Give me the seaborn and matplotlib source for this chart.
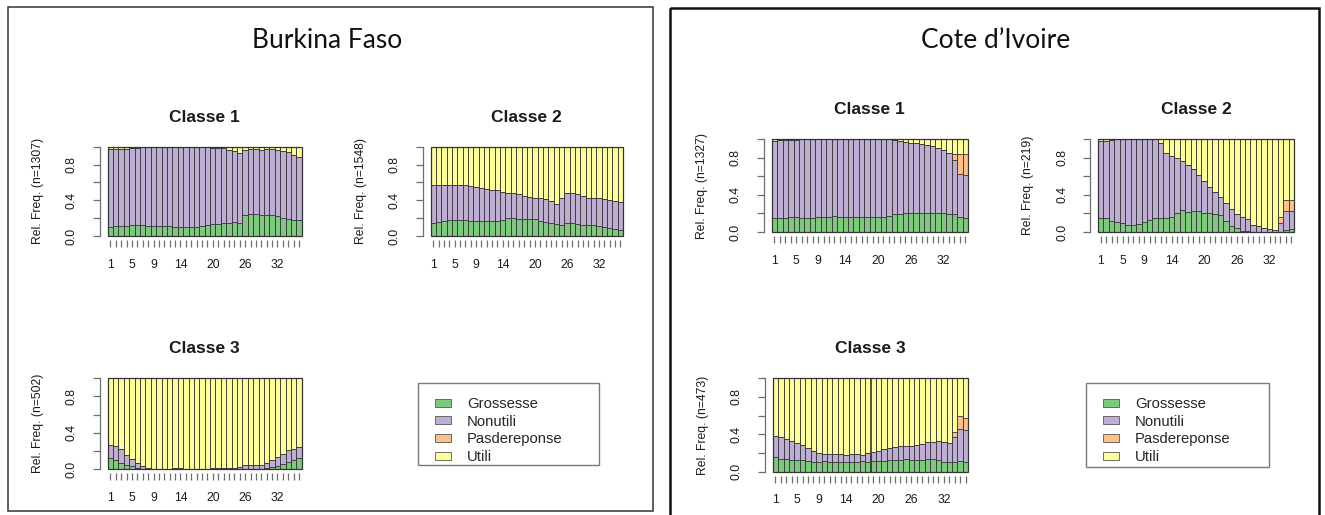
#!/usr/bin/env python

import numpy as np
import seaborn as sns
import matplotlib.pyplot as plt
from matplotlib.patches import Rectangle, Patch

# --- data -----------------------------------------------------------------
WEEKS = list(range(1, 37))
SHOWN_TICKS = ["1", "5", "9", "14", "20", "26", "32"]
CATEGORIES = ["Grossesse", "Nonutili", "Pasdereponse", "Utili"]
COLORS = ["#7fc97f", "#beaed4", "#fdc086", "#ffff99"]
COUNTRIES = ["Burkina Faso", "Cote d\u2019Ivoire"]
CLASSES = ["Classe 1", "Classe 2", "Classe 3"]
BF_N = [1307, 1548, 502]
CI_N = [1327, 219, 473]

BF_C1_G = [.10, .11, .11, .11, .12, .12, .12, .11, .11, .11, .11, .11, .10, .10, .10, .10, .10, .11,
           .12, .13, .13, .14, .15, .16, .15, .24, .25, .25, .24, .23, .23, .22, .20, .19, .18, .18]
BF_C1_N = [.87, .86, .86, .86, .86, .87, .88, .89, .89, .89, .89, .89, .90, .90, .90, .90, .90, .89,
           .88, .86, .86, .84, .81, .79, .78, .72, .72, .72, .72, .74, .74, .74, .75, .75, .73, .71]
BF_C1_P = [0, 0, 0, 0, 0, 0, 0, 0, 0, 0, 0, 0, 0, 0, 0, 0, 0, 0,
           0, 0, 0, 0, 0, 0, 0, 0, 0, 0, 0, 0, 0, 0, 0, 0, 0, 0]
BF_C1_U = [.03, .03, .03, .03, .02, .01, 0, 0, 0, 0, 0, 0, 0, 0, 0, 0, 0, 0,
           0, .01, .01, .02, .04, .05, .07, .04, .03, .03, .04, .03, .03, .04, .05, .06, .09, .11]

BF_C2_G = [.15, .16, .17, .18, .18, .18, .18, .17, .17, .17, .17, .17, .17, .18, .20, .20, .19, .19,
           .19, .19, .17, .16, .15, .13, .12, .14, .14, .13, .12, .12, .12, .11, .10, .09, .08, .07]
BF_C2_N = [.42, .41, .40, .39, .39, .39, .39, .39, .38, .37, .36, .35, .34, .31, .28, .28, .28, .26,
           .25, .24, .26, .25, .24, .23, .30, .34, .34, .34, .33, .31, .31, .31, .31, .31, .31, .31]
BF_C2_P = [0, 0, 0, 0, 0, 0, 0, 0, 0, 0, 0, 0, 0, 0, 0, 0, 0, 0,
           0, 0, 0, 0, 0, 0, 0, 0, 0, 0, 0, 0, 0, 0, 0, 0, 0, 0]
BF_C2_U = [.43, .43, .43, .43, .43, .43, .43, .44, .45, .46, .47, .48, .49, .51, .52, .52, .53, .55,
           .56, .57, .57, .59, .61, .64, .58, .52, .52, .53, .55, .57, .57, .58, .59, .60, .61, .62]

BF_C3_G = [.12, .10, .07, .045, .03, .015, .005, .005, 0, 0, 0, 0, .005, .005, 0, 0, 0, 0,
           0, .005, .01, .01, .005, 0, 0, .005, .005, .005, .005, .01, .02, .03, .055, .08, .10, .12]
BF_C3_N = [.145, .15, .15, .11, .075, .055, .025, .01, .005, .005, .005, .005, .005, .005, .005, .005, .005, .005,
           .005, .005, .005, .005, .005, .01, .025, .035, .035, .035, .04, .06, .08, .105, .115, .13, .12, .12]
BF_C3_P = [0, 0, 0, 0, 0, 0, 0, 0, 0, 0, 0, 0, 0, 0, 0, 0, 0, 0,
           0, 0, 0, 0, 0, 0, 0, 0, 0, 0, 0, 0, 0, 0, 0, 0, 0, 0]
BF_C3_U = [.735, .75, .78, .845, .895, .93, .97, .985, .995, .995, .995, .995, .99, .99, .995, .995, .995, .995,
           .995, .99, .985, .985, .99, .99, .975, .96, .96, .96, .955, .93, .90, .865, .83, .79, .78, .76]

CI_C1_G = [.15, .15, .15, .16, .16, .15, .15, .15, .16, .16, .16, .17, .16, .16, .16, .16, .16, .16,
           .16, .16, .16, .17, .19, .19, .20, .20, .21, .21, .21, .20, .20, .20, .19, .19, .16, .15]
CI_C1_N = [.83, .84, .84, .83, .83, .85, .85, .85, .84, .84, .84, .83, .84, .84, .84, .84, .84, .84,
           .84, .84, .84, .83, .80, .79, .77, .765, .75, .74, .73, .73, .71, .68, .66, .59, .47, .47]
CI_C1_P = [0, 0, 0, 0, 0, 0, 0, 0, 0, 0, 0, 0, 0, 0, 0, 0, 0, 0,
           0, 0, 0, 0, 0, 0, 0, 0, 0, 0, 0, 0, 0, 0, 0, .06, .21, .22]
CI_C1_U = [.02, .01, .01, .01, .01, 0, 0, 0, 0, 0, 0, 0, 0, 0, 0, 0, 0, 0,
           0, 0, 0, 0, .01, .02, .03, .035, .04, .05, .06, .07, .09, .12, .15, .16, .16, .16]

CI_C2_G = [.155, .15, .12, .11, .10, .08, .075, .085, .11, .13, .15, .15, .15, .16, .20, .24, .22, .23,
           .23, .21, .21, .19, .18, .12, .07, .04, .015, .01, .005, 0, 0, 0, 0, 0, .02, .03]
CI_C2_N = [.83, .835, .87, .89, .90, .92, .925, .915, .89, .87, .85, .81, .70, .66, .60, .53, .50, .45,
           .385, .34, .28, .245, .20, .19, .175, .155, .145, .13, .075, .06, .04, .03, .02, .10, .21, .20]
CI_C2_P = [0, 0, 0, 0, 0, 0, 0, 0, 0, 0, 0, 0, 0, 0, 0, 0, 0, 0,
           0, 0, 0, 0, 0, 0, 0, 0, 0, 0, 0, 0, 0, 0, 0, .065, .115, .115]
CI_C2_U = [.015, .015, .01, 0, 0, 0, 0, 0, 0, 0, 0, .04, .15, .18, .20, .23, .28, .32,
           .385, .45, .51, .565, .62, .69, .755, .805, .84, .86, .92, .94, .96, .97, .98, .835, .655, .655]

CI_C3_G = [.16, .14, .14, .125, .125, .125, .115, .10, .10, .11, .10, .10, .10, .10, .10, .10, .115, .10,
           .11, .11, .11, .12, .125, .125, .14, .13, .13, .13, .14, .135, .125, .10, .10, .10, .11, .10]
CI_C3_N = [.22, .23, .21, .205, .185, .16, .135, .125, .095, .08, .09, .09, .09, .08, .085, .085, .06, .095,
           .105, .115, .135, .13, .135, .145, .135, .15, .155, .17, .175, .185, .20, .215, .21, .27, .345, .345]
CI_C3_P = [0, 0, 0, 0, 0, 0, 0, 0, 0, 0, 0, 0, 0, 0, 0, 0, 0, 0,
           0, 0, 0, 0, 0, 0, 0, 0, 0, 0, 0, 0, 0, 0, 0, .05, .145, .135]
CI_C3_U = [.62, .63, .65, .67, .69, .715, .75, .775, .805, .81, .81, .81, .81, .82, .815, .815, .825, .805,
           .785, .775, .755, .75, .74, .73, .725, .72, .715, .70, .685, .68, .675, .685, .69, .58, .40, .42]

W, H = 1325, 515
EDGE = "#333333"
AXIS_GRAY = "#6e6e6e"
TEXT = "#1a1a1a"


def px_axes(fig, x0, y0, x1, y1):
    """add an axes from pixel coords (top-left origin)"""
    return fig.add_axes([x0 / W, 1 - y1 / H, (x1 - x0) / W, (y1 - y0) / H])


def draw_class(ax, series, title, n, width_px):
    """draw_class
    stacked relative frequency bars, drawn as overlapping cumulative layers
    """
    cum = np.cumsum(np.array(series, dtype=float), axis=0)
    for k in range(3, -1, -1):
        sns.barplot(x=WEEKS, y=cum[k], color=COLORS[k], saturation=1, width=1,
                    edgecolor=EDGE, linewidth=0.6, errorbar=None, ax=ax)
    ax.set_xlim(-0.5, 35.5)
    ax.set_ylim(0, 1)
    ax.set_xlabel("")
    ax.set_ylabel("")
    ax.set_xticks(range(len(WEEKS)))
    ax.set_xticklabels([str(w) if str(w) in SHOWN_TICKS else "" for w in WEEKS])
    ax.set_yticks([0, .2, .4, .6, .8, 1])
    ax.set_yticklabels(["0.0", "", "0.4", "", "0.8", ""])
    for s in ["top", "right", "bottom"]:
        ax.spines[s].set_visible(False)
    ax.spines["bottom"].set_position(("outward", 3))
    ax.spines["left"].set_position(("outward", 5.8))
    ax.spines["left"].set_bounds(0, 1)
    ax.spines["left"].set_color(AXIS_GRAY)
    ax.spines["left"].set_linewidth(0.9)
    ax.tick_params(axis="both", length=4.8, width=0.9, color=AXIS_GRAY,
                   labelsize=8.7, labelcolor=TEXT, bottom=True, left=True)
    ax.tick_params(axis="x", pad=8.5)
    ax.tick_params(axis="y", pad=11, labelrotation=90)
    for lab in ax.get_yticklabels():
        lab.set_verticalalignment("center")
    ax.add_patch(Rectangle((0, 0), 1, 1, transform=ax.transAxes, fill=False,
                           ec=EDGE, lw=0.9, clip_on=False, zorder=5))
    ax.set_title(title, fontsize=12.5, fontweight="bold", pad=18, color=TEXT)
    ax.text(-70 / width_px, 0.5, f"Rel. Freq. (n={n})", rotation=90, ha="center",
            va="center", transform=ax.transAxes, fontsize=8.7, color=TEXT)


def main():
    sns.set_style("white")
    plt.rcParams["font.family"] = ["Liberation Sans", "DejaVu Sans"]

    fig = plt.figure(figsize=(W / 100, H / 100), dpi=100)

    bg = fig.add_axes([0, 0, 1, 1], zorder=-1)
    bg.set_xlim(0, W)
    bg.set_ylim(H, 0)
    bg.axis("off")
    bg.add_patch(Rectangle((8, 7.3), 645, 503.4, fill=False, ec="#333333", lw=1.1))
    bg.add_patch(Rectangle((670, 7.5), 649, 530, fill=False, ec="#111111", lw=1.8))
    bg.text(327.5, 40, COUNTRIES[0], ha="center", va="center", fontsize=19,
            family=["Lato", "DejaVu Sans"], color="#111111")
    bg.text(996, 40, COUNTRIES[1], ha="center", va="center", fontsize=19,
            family=["Lato", "DejaVu Sans"], color="#111111")

    bf_series = [
        [BF_C1_G, BF_C1_N, BF_C1_P, BF_C1_U],
        [BF_C2_G, BF_C2_N, BF_C2_P, BF_C2_U],
        [BF_C3_G, BF_C3_N, BF_C3_P, BF_C3_U],
    ]
    ci_series = [
        [CI_C1_G, CI_C1_N, CI_C1_P, CI_C1_U],
        [CI_C2_G, CI_C2_N, CI_C2_P, CI_C2_U],
        [CI_C3_G, CI_C3_N, CI_C3_P, CI_C3_U],
    ]
    bf_boxes = [(107.7, 146.7, 301.7, 236), (430.7, 146.7, 623, 236), (107.7, 378.3, 301.7, 469)]
    ci_boxes = [(771.7, 139.3, 968, 232), (1098, 139.3, 1294, 232), (772.7, 378.3, 968.3, 471.7)]

    for i in range(3):
        box = bf_boxes[i]
        ax = px_axes(fig, *box)
        draw_class(ax, bf_series[i], CLASSES[i], BF_N[i], box[2] - box[0])
        box = ci_boxes[i]
        ax = px_axes(fig, *box)
        draw_class(ax, ci_series[i], CLASSES[i], CI_N[i], box[2] - box[0])

    # legends: frame drawn on the background, entries via fig.legend
    handles = [Patch(facecolor=c, edgecolor="#555555", lw=0.6, label=l)
               for c, l in zip(COLORS, CATEGORIES)]
    for (x0, y0, x1, y1), hx in [((418, 382.7, 599, 465), 435), ((1086, 382.7, 1269, 466.7), 1103)]:
        bg.add_patch(Rectangle((x0, y0), x1 - x0, y1 - y0, fill=False, ec="#7a7a7a", lw=1.0))
        fig.legend(handles=handles, loc="upper left", bbox_to_anchor=(hx / W, 1 - 397 / H),
                   frameon=False, fontsize=10.7, handlelength=1.05, handleheight=0.45,
                   handletextpad=1.1, labelspacing=0.25, borderpad=0, borderaxespad=0)

    plt.savefig("out.png", dpi=100)
    plt.close()


if __name__ == '__main__':
    main()
